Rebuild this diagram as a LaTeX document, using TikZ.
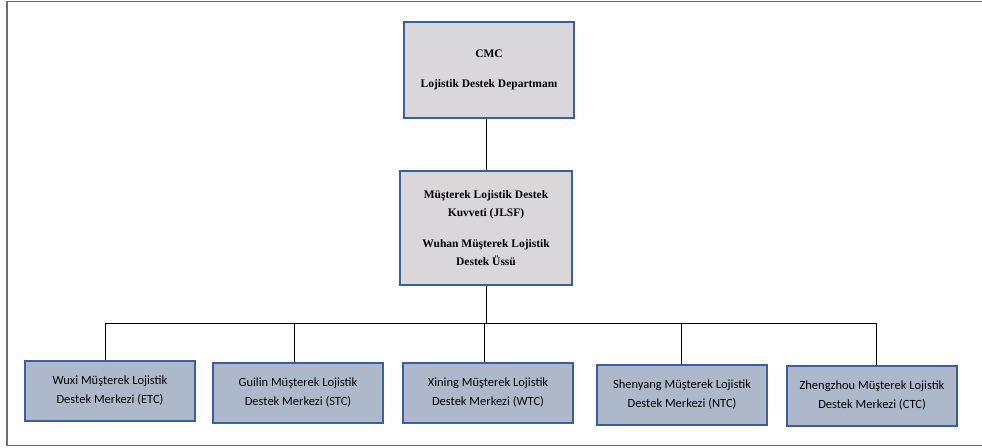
\documentclass[tikz,border=0pt]{standalone}
\usepackage{fontspec}
\setmainfont{Liberation Serif}
\newfontfamily\centerfont{Carlito}
\usetikzlibrary{positioning}
\usetikzlibrary{calc}

\definecolor{hqgray}{HTML}{D9D7D9}
\definecolor{tcblue}{HTML}{ADB9CB}
\definecolor{edgeblue}{HTML}{3B5E9E}
\definecolor{framegray}{HTML}{6E6E6E}

\begin{document}
\begin{tikzpicture}[x=1pt,y=-1pt,
  hqbox/.style={draw=edgeblue,line width=1.2pt,fill=hqgray,align=center,
    font=\fontsize{11.5}{17.5}\selectfont\bfseries,inner sep=0pt},
  tcbox/.style={draw=edgeblue,line width=1.2pt,fill=tcblue,align=center,
    minimum width=170pt,minimum height=60pt,inner sep=0pt,
    font=\centerfont\fontsize{12.5}{19}\selectfont},
  link/.style={draw=black,line width=0.9pt}]

\useasboundingbox (0,0) rectangle (982,447);

% frame
\draw[framegray,line width=1.8pt] (990,1.5) -- (7,1.5) -- (7,445.5) -- (990,445.5);

% command levels
\node[hqbox,minimum width=170pt,minimum height=96pt] (cmc) at (489,70)
  {CMC\\[13pt]Lojistik Destek Departmanı};
\node[hqbox,minimum width=172pt,minimum height=114pt] (jlsf) at (486,228)
  {Müşterek Lojistik Destek\\Kuvveti (JLSF)\\[14pt]Wuhan Müşterek Lojistik\\Destek Üssü};

% joint logistic support centers
\node[tcbox] (etc) at (110,391) {Wuxi Müşterek Lojistik\\Destek Merkezi (ETC)};
\node[tcbox] (stc) at (298,393) {Guilin Müşterek Lojistik\\Destek Merkezi (STC)};
\node[tcbox] (wtc) at (488,393) {Xining Müşterek Lojistik\\Destek Merkezi (WTC)};
\node[tcbox] (ntc) at (682,395) {Shenyang Müşterek Lojistik\\Destek Merkezi (NTC)};
\node[tcbox] (ctc) at (872,396) {Zhengzhou Müşterek Lojistik\\Destek Merkezi (CTC)};

% bus
\coordinate (busL) at (105,323);
\coordinate (busR) at (877,323);

\draw[link] (cmc.south -| jlsf.north) -- (jlsf.north);
\draw[link] (jlsf.south) -- (jlsf.south |- busL);
\draw[link] (busL) -- (busR);
\foreach \tc/\dx in {etc/-5,stc/-4,wtc/-4,ntc/-1,ctc/4}
  \draw[link] ([xshift=\dx pt]\tc.north) -- ([xshift=\dx pt]\tc.north |- busL);

\end{tikzpicture}
\end{document}
